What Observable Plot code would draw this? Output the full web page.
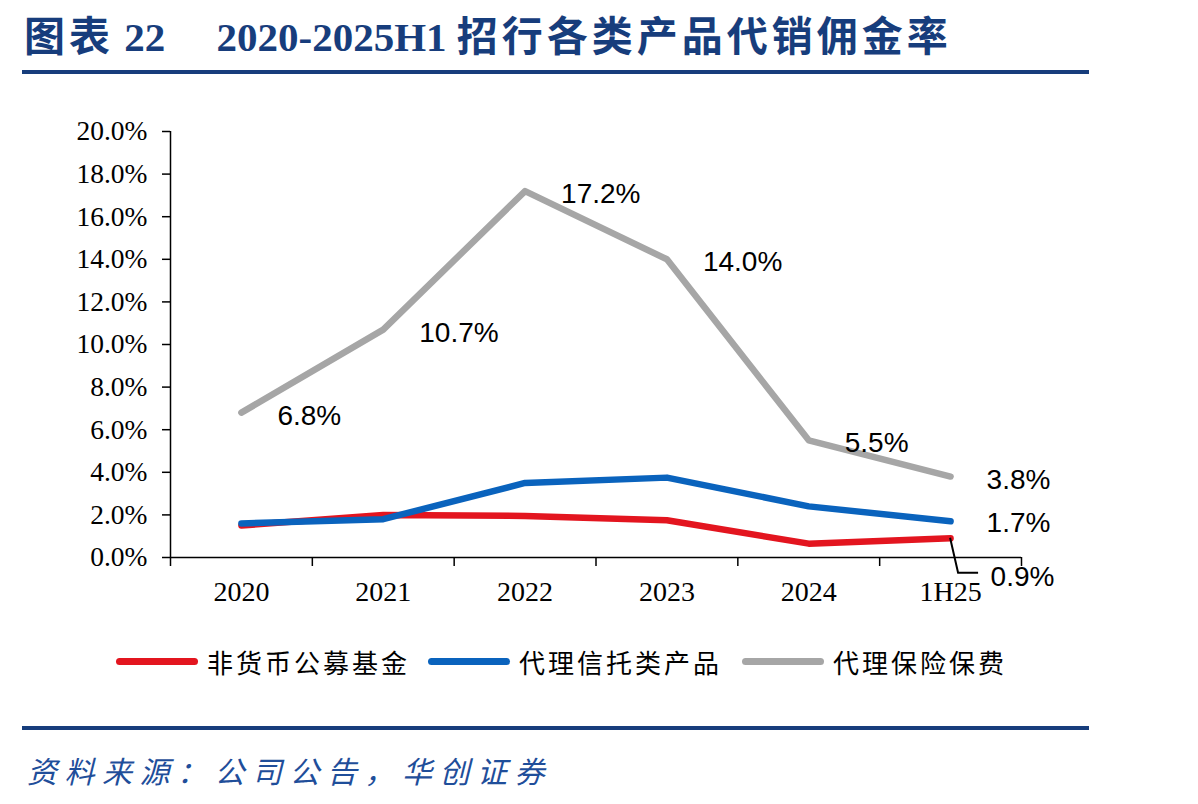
<!DOCTYPE html>
<html><head><meta charset="utf-8">
<script src="https://cdn.jsdelivr.net/npm/d3@7"></script>
<script src="https://cdn.jsdelivr.net/npm/@observablehq/plot@0.6"></script>
<style>
body{margin:0;width:1198px;height:804px;background:#fff;position:relative;overflow:hidden;font-family:"Noto Sans CJK SC",sans-serif;}
#title{position:absolute;left:24px;top:3px;font-family:"Liberation Serif","Noto Sans CJK SC",serif;font-weight:bold;font-size:41px;color:#173d7c;white-space:nowrap;}
#title .cj{letter-spacing:4px;}
.rule{position:absolute;left:22px;width:1067px;height:4px;background:#173d7c;}
#chart{position:absolute;left:0;top:100px;}
.item{position:absolute;top:643px;display:flex;align-items:center;font-size:26px;letter-spacing:3px;color:#000;white-space:nowrap;}
.sw{display:inline-block;width:82px;height:7px;border-radius:4px;margin-right:9px;}
#source{position:absolute;left:27px;top:748px;font-size:30px;font-style:italic;color:#1f4e9a;letter-spacing:7.5px;white-space:nowrap;}
</style></head>
<body>
<div id="title"><span class="cj">图表</span> 22&nbsp;&nbsp;&nbsp;&nbsp;&nbsp;2020-2025H1 <span class="cj">招行各类产品代销佣金率</span></div>
<div class="rule" style="top:70px"></div>
<div id="chart"></div>
<div id="legend"></div>
<div class="rule" style="top:726px"></div>
<div id="source">资料来源：公司公告，华创证券</div>
<script>
const categories = ["2020","2021","2022","2023","2024","1H25"];
const seriesNames = ["非货币公募基金","代理信托类产品","代理保险保费"];
const fund = [1.5, 2.0, 1.95, 1.75, 0.65, 0.9];
const trust = [1.6, 1.8, 3.5, 3.75, 2.4, 1.7];
const insurance = [6.8, 10.7, 17.2, 14.0, 5.5, 3.8];
const colors = ["#e3151f", "#0a63bd", "#a6a6a6"];
const yTicks = [0,2,4,6,8,10,12,14,16,18,20];
const legendLeft = [116, 428, 742];

const rows = [];
[fund, trust, insurance].forEach((arr, s) => arr.forEach((v, i) => rows.push({series: seriesNames[s], i, v})));
const drawOrder = [seriesNames[2], seriesNames[0], seriesNames[1]];
const lineRows = drawOrder.flatMap(n => rows.filter(r => r.series === n));
const n = categories.length;
const insLabels = rows.filter(r => r.series === seriesNames[2]);
const endLabels = rows.filter(r => r.series === seriesNames[1] && r.i === n - 1);
const fundEnd = rows.filter(r => r.series === seriesNames[0] && r.i === n - 1);

const leader = (index, scales) => {
  const g = d3.create("svg:g");
  fundEnd.forEach(d => {
    const px = scales.x(d.i), py = scales.y(d.v);
    g.append("path").attr("d", `M${px},${py}L${px+8},${py+35}L${px+28},${py+35}`)
      .attr("fill", "none").attr("stroke", "#000").attr("stroke-width", 2);
  });
  return g.node();
};

const labelFont = {fontFamily: "Liberation Sans", fontSize: 28, fill: "#000", textAnchor: "start"};
const chart = Plot.plot({
  width: 1198, height: 520,
  marginLeft: 170, marginRight: 177, marginTop: 31, marginBottom: 63,
  x: {type: "linear", domain: [-0.5, n - 0.5]},
  y: {domain: [0, 20]},
  color: {domain: seriesNames, range: colors},
  style: {background: "transparent", overflow: "visible"},
  marks: [
    Plot.ruleY([0], {stroke: "#000", strokeWidth: 1.5}),
    Plot.ruleX([-0.5], {stroke: "#000", strokeWidth: 1.5}),
    Plot.axisY({ticks: yTicks, tickSize: 8, tickPadding: 15, tickFormat: d => d.toFixed(1) + "%",
      fontFamily: "Liberation Serif", fontSize: 27.5, label: null, stroke: "#000", strokeWidth: 1.5}),
    Plot.axisX({ticks: d3.range(-0.5, n, 1), tickSize: 9, tickFormat: () => "", label: null, stroke: "#000", strokeWidth: 1.5}),
    Plot.axisX({ticks: d3.range(0, n), tickSize: 0, tickPadding: 24, tickFormat: i => categories[i],
      fontFamily: "Liberation Serif", fontSize: 28, label: null}),
    Plot.line(lineRows, {x: "i", y: "v", z: "series", stroke: "series", strokeWidth: 6.5, strokeLinejoin: "round"}),
    Plot.text(insLabels, {x: "i", y: "v", text: d => d.v.toFixed(1) + "%", dx: 36, dy: 3, ...labelFont}),
    Plot.text(endLabels, {x: "i", y: "v", text: d => d.v.toFixed(1) + "%", dx: 36, dy: 2, ...labelFont}),
    leader,
    Plot.text(fundEnd, {x: "i", y: "v", text: d => d.v.toFixed(1) + "%", dx: 40, dy: 39, ...labelFont})
  ]
});
document.getElementById("chart").appendChild(chart);

seriesNames.forEach((name, k) => {
  const it = document.createElement("div"); it.className = "item"; it.style.left = legendLeft[k] + "px";
  const sw = document.createElement("span"); sw.className = "sw"; sw.style.background = colors[k];
  const tx = document.createElement("span"); tx.textContent = name;
  it.appendChild(sw); it.appendChild(tx); document.body.appendChild(it);
});
</script>
</body></html>
